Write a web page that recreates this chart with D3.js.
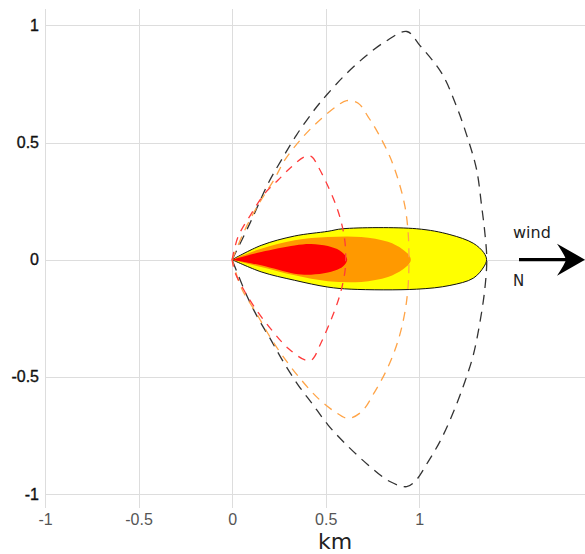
<!DOCTYPE html>
<html>
<head>
<meta charset="utf-8">
<script src="https://cdn.jsdelivr.net/npm/d3@7"></script>
<style>
  body { margin: 0; background: #fff; }
  svg { display: block; font-family: "DejaVu Sans", sans-serif; }
  .grid line { stroke: #dddddd; stroke-width: 1; shape-rendering: crispEdges; }
</style>
</head>
<body>
<div id="chart"></div>
<script>
// threat zone footprint, km downwind (x) / crosswind (y)
var xTicks = [-1, -0.5, 0, 0.5, 1];
var yTicks = [-1, -0.5, 0, 0.5, 1];

// filled zones (top edge then bottom edge)
var yellowZone = [[0,0],[0.155,0.061],[0.334,0.101],[0.512,0.121],[0.592,0.132],
  [0.986,0.132],[1.164,0.107],[1.289,0.07],[1.345,0.03],[1.36,0],
  [1.345,-0.031],[1.289,-0.079],[1.164,-0.11],[0.986,-0.126],[0.636,-0.126],[0.512,-0.117],
  [0.334,-0.088],[0.155,-0.052],[0,0]];
var orangeZone = [[0,0],[0.155,0.047],[0.334,0.083],[0.512,0.097],[0.69,0.097],[0.833,0.076],[0.91,0.045],
  [0.945,0.02],[0.955,0],[0.945,-0.019],
  [0.91,-0.043],[0.833,-0.074],[0.69,-0.095],[0.512,-0.092],[0.334,-0.067],[0.155,-0.031],[0,0]];
var redZone = [[0,0],[0.155,0.033],[0.334,0.061],[0.422,0.067],[0.512,0.058],[0.575,0.039],[0.605,0.017],
  [0.615,0],[0.605,-0.018],[0.575,-0.038],[0.512,-0.055],[0.422,-0.064],[0.334,-0.06],[0.155,-0.024],[0,0]];

// dashed confidence lines
var blackLine = [[0,0],[0.095,0.155],[0.193,0.326],[0.264,0.426],[0.344,0.532],[0.442,0.642],[0.505,0.703],
  [0.603,0.788],[0.71,0.866],[0.817,0.93],[0.934,0.974],[1.003,0.915],[1.12,0.796],[1.2,0.653],[1.262,0.511],
  [1.307,0.383],[1.334,0.226],[1.351,0.113],[1.361,0],
  [1.351,-0.122],[1.325,-0.265],[1.289,-0.407],[1.244,-0.521],[1.191,-0.634],[1.12,-0.762],[1.048,-0.862],
  [0.977,-0.947],[0.933,-0.969],[0.843,-0.947],[0.727,-0.876],[0.612,-0.791],[0.513,-0.706],[0.433,-0.62],
  [0.353,-0.535],[0.273,-0.435],[0.202,-0.335],[0.139,-0.25],[0.077,-0.151],[0,0]];
var orangeLine = [[0,0],[0.068,0.127],[0.139,0.233],[0.228,0.347],[0.282,0.426],[0.38,0.525],[0.478,0.603],
  [0.567,0.66],[0.612,0.679],[0.674,0.668],[0.727,0.61],[0.781,0.539],[0.843,0.44],[0.888,0.34],[0.924,0.226],
  [0.941,0.113],[0.945,0],
  [0.941,-0.108],[0.924,-0.222],[0.888,-0.343],[0.834,-0.457],[0.763,-0.563],[0.692,-0.649],[0.62,-0.677],
  [0.549,-0.649],[0.46,-0.592],[0.362,-0.506],[0.273,-0.414],[0.202,-0.329],[0.13,-0.229],[0.05,-0.122],[0,0]];
var redLine = [[0,0],[0.032,0.098],[0.104,0.198],[0.175,0.283],[0.246,0.34],[0.318,0.397],[0.389,0.44],[0.425,0.44],
  [0.46,0.397],[0.513,0.312],[0.558,0.226],[0.585,0.155],[0.603,0.077],[0.607,0],
  [0.603,-0.051],[0.576,-0.151],[0.532,-0.25],[0.478,-0.35],[0.425,-0.428],[0.389,-0.428],[0.299,-0.378],
  [0.211,-0.3],[0.13,-0.215],[0.068,-0.137],[0.014,-0.051],[0,0]];

(function() {
  var width = 585, height = 554;
  var plotLeft = 45, plotRight = 585, plotTop = 9, plotBottom = 508;

  var svg = d3.select("#chart").append("svg")
      .attr("width", width)
      .attr("height", height);

  var x = d3.scaleLinear().domain([-1, 1.886]).range([plotLeft, plotRight]);
  var y = d3.scaleLinear().domain([-1.06, 1.07]).range([plotBottom, plotTop]);

  // grid + tick labels
  var xAxis = svg.append("g")
      .attr("class", "grid")
      .attr("transform", "translate(0," + plotBottom + ")")
      .call(d3.axisBottom(x).tickValues(xTicks).tickSize(-(plotBottom - plotTop)).tickPadding(6)
        .tickFormat(function(d) { return String(d); }));
  xAxis.select(".domain").remove();
  xAxis.selectAll("text").attr("fill", "#555").style("font-size", "16px");

  var yAxis = svg.append("g")
      .attr("class", "grid")
      .attr("transform", "translate(" + plotLeft + ",0)")
      .call(d3.axisLeft(y).tickValues(yTicks).tickSize(-(plotRight - plotLeft)).tickPadding(6)
        .tickFormat(function(d) { return String(d); }));
  yAxis.select(".domain").remove();
  yAxis.selectAll("text")
      .attr("fill", "#111")
      .attr("stroke", "#111")
      .attr("stroke-width", 0.35)
      .style("font-size", "16px");

  var line = d3.line()
      .x(function(d) { return x(d[0]); })
      .y(function(d) { return y(d[1]); })
      .curve(d3.curveCatmullRom.alpha(0.5));

  // zones, outer first
  svg.append("path").datum(yellowZone)
      .attr("d", function(d) { return line(d) + "Z"; })
      .attr("fill", "#ffff00")
      .attr("stroke", "#111")
      .attr("stroke-width", 1);
  svg.append("path").datum(orangeZone)
      .attr("d", function(d) { return line(d) + "Z"; })
      .attr("fill", "#ff9900");
  svg.append("path").datum(redZone)
      .attr("d", function(d) { return line(d) + "Z"; })
      .attr("fill", "#ff0000");

  var dashed = [
    {pts: blackLine, color: "#333333", dash: "10,7"},
    {pts: orangeLine, color: "#ffa447", dash: "9,7"},
    {pts: redLine, color: "#ff3b3b", dash: "8,7"}
  ];
  svg.selectAll(".conf").data(dashed)
    .enter().append("path")
      .attr("class", "conf")
      .attr("d", function(d) { return line(d.pts); })
      .attr("fill", "none")
      .attr("stroke", function(d) { return d.color; })
      .attr("stroke-width", 1.3)
      .attr("stroke-dasharray", function(d) { return d.dash; });

  // wind arrow
  var ay = y(0);
  svg.append("line")
      .attr("x1", 519).attr("x2", 566)
      .attr("y1", ay).attr("y2", ay)
      .attr("stroke", "#000")
      .attr("stroke-width", 3.3);
  svg.append("path")
      .attr("d", "M585," + ay + " L557," + (ay - 16) + " Q565," + (ay - 4) + " 566," + ay +
        " Q565," + (ay + 4) + " 557," + (ay + 16) + " Z")
      .attr("fill", "#000");
  svg.append("text")
      .attr("x", 513).attr("y", 238)
      .attr("fill", "#222")
      .style("font-size", "16px")
      .text("wind");
  svg.append("text")
      .attr("x", 513).attr("y", 286)
      .attr("fill", "#222")
      .style("font-size", "15px")
      .text("N");

  svg.append("text")
      .attr("x", 335).attr("y", 549)
      .attr("text-anchor", "middle")
      .attr("fill", "#222")
      .style("font-size", "22px")
      .text("km");
})();
</script>
</body>
</html>
